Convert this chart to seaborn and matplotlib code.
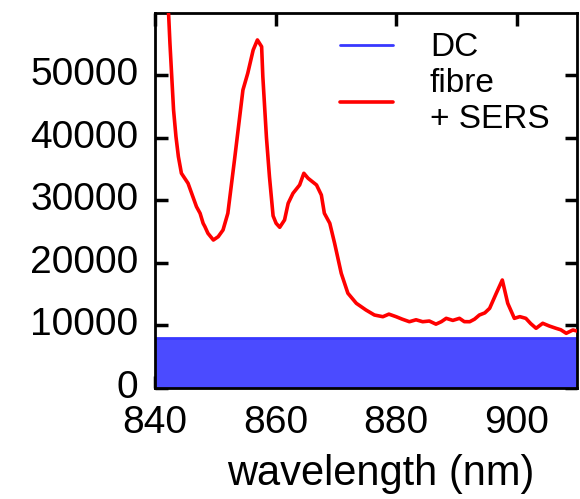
import matplotlib
matplotlib.use("Agg")
import matplotlib.pyplot as plt
import matplotlib.transforms as mtransforms
import seaborn as sns
import pandas as pd

# Fibre + SERS spectrum (counts vs wavelength, nm)
sers_wl = [841.6, 842.3, 842.5, 842.8, 843.1, 843.5, 843.9, 844.4, 845.5, 846.3,
           846.9, 847.5, 848.0, 848.3, 848.8, 849.7, 850.5, 851.3, 852.1, 853.2,
           854.6, 855.4, 856.3, 857.0, 857.7, 857.9, 858.5, 859.0, 859.6, 860.1,
           860.7, 861.5, 862.1, 862.9, 864.0, 864.7, 865.4, 866.8, 867.6, 868.1,
           869.0, 869.8, 870.9, 872.0, 873.4, 875.0, 876.4, 877.8, 878.8, 880.0,
           881.0, 882.2, 883.3, 884.4, 885.5, 886.6, 887.5, 888.3, 889.4, 890.5,
           891.3, 892.2, 893.0, 893.8, 894.7, 895.5, 896.6, 897.6, 898.5, 899.6,
           900.5, 901.5, 902.3, 903.2, 904.3, 905.4, 906.5, 907.3, 908.2, 909.3,
           910.0]
sers_counts = [70000, 59300, 55060, 49730, 44410, 40140, 36950, 34300, 32700, 30560,
               28960, 27900, 26310, 25770, 24710, 23640, 24170, 25240, 27910, 36420,
               47600, 50270, 53990, 55590, 54520, 49730, 40000, 33750, 27500, 26310,
               25670, 26840, 29500, 31100, 32430, 34300, 33500, 32430, 30830, 27910,
               26310, 23110, 18320, 15140, 13530, 12460, 11660, 11390, 11800, 11390,
               11000, 10590, 10900, 10590, 10700, 10200, 10600, 11130, 10800, 11130,
               10600, 10590, 11000, 11660, 12000, 12730, 15130, 17250, 13530, 11130,
               11400, 11130, 10300, 9540, 10340, 9900, 9540, 9300, 8740, 9270,
               9100]

# Dark-count level
dc_wl = [840, 910]
dc_counts = [8000, 8000]

x_ticks = [840, 860, 880, 900]
y_ticks = [0, 10000, 20000, 30000, 40000, 50000]

sns.set_style("ticks")
plt.rcParams["font.family"] = ["Liberation Sans", "DejaVu Sans"]
plt.rcParams["text.color"] = "black"
plt.rcParams["axes.labelcolor"] = "black"
plt.rcParams["xtick.color"] = "black"
plt.rcParams["ytick.color"] = "black"

fig = plt.figure(figsize=(5.8, 4.99), dpi=100)
ax = fig.add_axes([0.267, 0.2224, 0.728, 0.7516])

dc = pd.DataFrame({"wl": dc_wl, "counts": dc_counts})
sers = pd.DataFrame({"wl": sers_wl, "counts": sers_counts})

ax.fill_between(dc["wl"], 0, dc["counts"], color="#4b4bff", linewidth=0, zorder=1)
sns.lineplot(data=dc, x="wl", y="counts", ax=ax, color="#3838ff", linewidth=2,
             label="DC", zorder=2)
sns.lineplot(data=sers, x="wl", y="counts", ax=ax, color="#ff0000", linewidth=2.6,
             label="fibre\n+ SERS", zorder=3)

ax.set_xlim(840, 910)
ax.set_ylim(0, 59900)
ax.set_xticks(x_ticks)
ax.set_yticks(y_ticks)
ax.set_xticklabels([str(v) for v in x_ticks])
ax.set_yticklabels([str(v) for v in y_ticks])

ax.tick_params(direction="in", top=True, right=True, length=9, width=2.5,
               labelsize=28, pad=12, colors="black", labelcolor="black")
for s in ax.spines.values():
    s.set_linewidth(2.0)
    s.set_color("black")

# nudge the count labels slightly upward
shift = mtransforms.ScaledTranslation(0, 4 / 100, fig.dpi_scale_trans)
for lbl in ax.get_yticklabels():
    lbl.set_transform(lbl.get_transform() + shift)

ax.set_xlabel("wavelength (nm)", fontsize=30, color="black")
ax.xaxis.set_label_coords(0.535, -0.177)
ax.set_ylabel("")

leg = ax.legend(loc="upper left", bbox_to_anchor=(0.438, 0.948), frameon=False,
                fontsize=24, handlelength=1.6, handletextpad=1.1, labelspacing=0.15,
                borderpad=0, borderaxespad=0)
for t in leg.get_texts():
    t.set_color("black")

fig.savefig("out.png", dpi=100)
